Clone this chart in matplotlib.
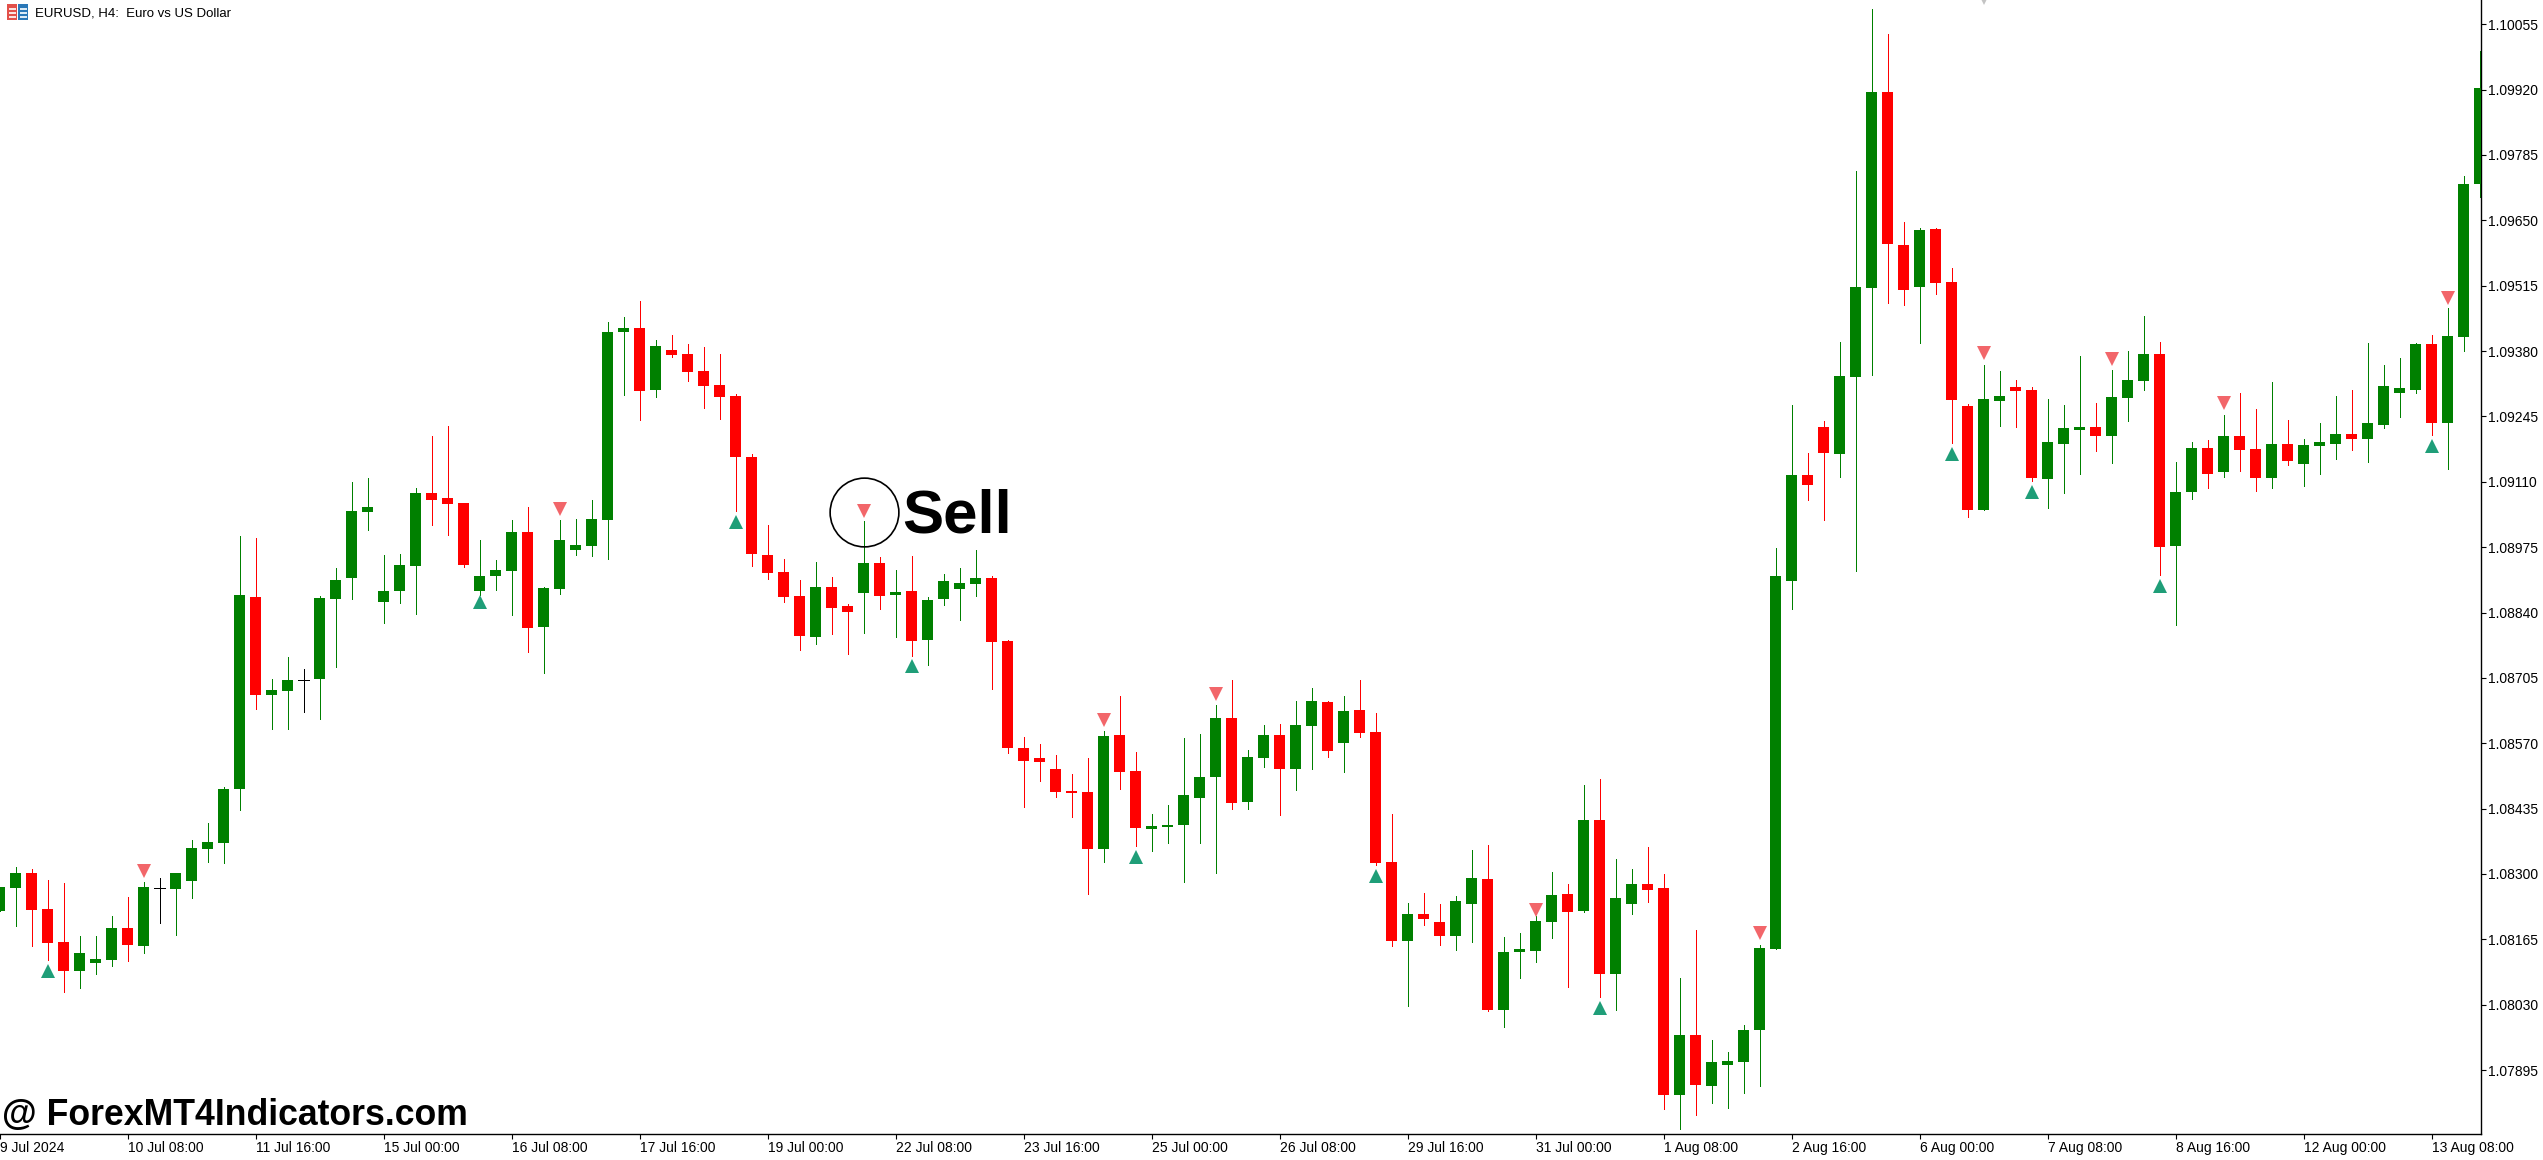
#!/usr/bin/env python3
"""EURUSD H4 candles with buy/sell arrows, MT5 look."""
import numpy as np
import matplotlib
matplotlib.use("Agg")
import matplotlib.pyplot as plt
from matplotlib.patches import Rectangle

# prices in points (1e-5)
opens = [
    108224, 108272, 108301, 108228, 108160, 108100, 108117, 108123, 108189, 108152,
    108271, 108270, 108286, 108352, 108365, 108476, 108872, 108670, 108678, 108701,
    108703, 108868, 108911, 109047, 108862, 108884, 108936, 109087, 109076, 109066,
    108884, 108915, 108926, 109006, 108810, 108889, 108969, 108977, 109031, 109420,
    109428, 109300, 109382, 109374, 109339, 109310, 109287, 109161, 108958, 108924,
    108874, 108789, 108893, 108853, 108880, 108942, 108876, 108884, 108783, 108867,
    108888, 108899, 108911, 108781, 108560, 108540, 108517, 108471, 108470, 108352,
    108587, 108513, 108393, 108397, 108401, 108457, 108500, 108622, 108448, 108540,
    108587, 108516, 108605, 108655, 108570, 108639, 108593, 108324, 108161, 108217,
    108201, 108171, 108238, 108289, 108019, 108139, 108141, 108201, 108258, 108223,
    108411, 108093, 108238, 108279, 108271, 107844, 107967, 107862, 107905, 107912,
    107977, 108145, 108905, 109124, 109223, 109167, 109327, 109510, 109915, 109599,
    109512, 109632, 109523, 109267, 109052, 109276, 109306, 109300, 109115, 109189,
    109216, 109223, 109205, 109283, 109318, 109374, 108977, 109089, 109180, 109130,
    109205, 109178, 109118, 109188, 109147, 109184, 109189, 109208, 109198, 109227,
    109293, 109300, 109395, 109232, 109409, 109725,
]
closes = [
    108274, 108301, 108226, 108158, 108100, 108136, 108125, 108189, 108154, 108274,
    108271, 108301, 108354, 108367, 108476, 108876, 108670, 108680, 108701, 108701,
    108870, 108907, 109050, 109058, 108884, 108938, 109087, 109072, 109064, 108938,
    108915, 108928, 109006, 108808, 108891, 108990, 108979, 109033, 109420, 109428,
    109298, 109390, 109371, 109337, 109307, 109285, 109161, 108961, 108921, 108872,
    108791, 108893, 108849, 108841, 108942, 108874, 108883, 108781, 108866, 108905,
    108901, 108911, 108779, 108560, 108534, 108531, 108470, 108467, 108352, 108585,
    108511, 108394, 108399, 108401, 108463, 108500, 108622, 108447, 108541, 108587,
    108517, 108607, 108657, 108554, 108637, 108591, 108322, 108161, 108217, 108207,
    108171, 108244, 108292, 108019, 108139, 108145, 108203, 108256, 108221, 108411,
    108093, 108250, 108279, 108267, 107844, 107967, 107864, 107912, 107913, 107977,
    108147, 108915, 109124, 109104, 109169, 109328, 109512, 109915, 109601, 109506,
    109630, 109520, 109279, 109052, 109281, 109287, 109297, 109118, 109192, 109221,
    109223, 109205, 109285, 109320, 109374, 108975, 109089, 109180, 109126, 109205,
    109175, 109118, 109188, 109153, 109186, 109192, 109208, 109198, 109232, 109308,
    109303, 109395, 109232, 109411, 109725, 109923,
]
highs = [
    108274, 108315, 108311, 108288, 108282, 108171, 108171, 108214, 108253, 108284,
    108291, 108303, 108371, 108406, 108480, 108998, 108994, 108703, 108748, 108724,
    108874, 108932, 109110, 109117, 108959, 108961, 109098, 109205, 109226, 109066,
    108990, 108948, 109031, 109058, 108893, 109031, 109033, 109072, 109440, 109451,
    109484, 109403, 109413, 109394, 109388, 109374, 109292, 109167, 109021, 108950,
    108907, 108944, 108913, 108857, 109029, 108954, 108928, 108957, 108872, 108920,
    108931, 108969, 108915, 108783, 108582, 108568, 108545, 108507, 108540, 108595,
    108668, 108552, 108424, 108443, 108581, 108589, 108649, 108701, 108556, 108608,
    108609, 108657, 108684, 108657, 108667, 108701, 108632, 108424, 108240, 108260,
    108238, 108255, 108349, 108360, 108170, 108178, 108213, 108304, 108279, 108484,
    108496, 108331, 108310, 108356, 108299, 108085, 108184, 107957, 107932, 107988,
    108154, 108973, 109268, 109169, 109235, 109398, 109752, 110086, 110035, 109646,
    109634, 109634, 109551, 109270, 109351, 109339, 109320, 109306, 109281, 109268,
    109369, 109273, 109341, 109380, 109452, 109398, 109151, 109192, 109196, 109248,
    109293, 109260, 109316, 109238, 109198, 109232, 109287, 109300, 109396, 109351,
    109365, 109396, 109413, 109469, 109741, 110000,
]
lows = [
    108224, 108193, 108152, 108123, 108056, 108064, 108094, 108109, 108121, 108136,
    108199, 108175, 108251, 108325, 108323, 108433, 108641, 108600, 108600, 108635,
    108620, 108728, 108868, 109010, 108818, 108860, 108837, 109021, 109000, 108934,
    108876, 108887, 108835, 108759, 108715, 108878, 108959, 108957, 108950, 109290,
    109238, 109285, 109367, 109318, 109262, 109239, 109049, 108936, 108909, 108861,
    108763, 108775, 108796, 108754, 108797, 108847, 108789, 108750, 108732, 108856,
    108824, 108874, 108682, 108550, 108438, 108492, 108459, 108417, 108259, 108325,
    108475, 108357, 108347, 108364, 108283, 108364, 108302, 108434, 108434, 108521,
    108422, 108473, 108516, 108541, 108511, 108582, 108318, 108151, 108027, 108194,
    108153, 108143, 108159, 108017, 107984, 108085, 108118, 108168, 108066, 108221,
    108046, 108019, 108217, 108242, 107814, 107774, 107802, 107827, 107817, 107848,
    107862, 108145, 108847, 109072, 109031, 109120, 108925, 109330, 109479, 109475,
    109396, 109498, 109190, 109037, 109052, 109225, 109223, 109112, 109056, 109087,
    109126, 109173, 109148, 109235, 109300, 108917, 108814, 109074, 109097, 109120,
    109132, 109091, 109097, 109145, 109101, 109126, 109157, 109175, 109151, 109221,
    109243, 109293, 109206, 109137, 109380, 109698,
]

sell_bars = [9, 35, 54, 69, 76, 96, 110, 124, 132, 139, 153]
sell_prices = [108307, 109054, 109049, 108618, 108672, 108226, 108178, 109375, 109364, 109272, 109489]
buy_bars = [3, 30, 46, 57, 71, 86, 100, 122, 127, 135, 152]
buy_prices = [108100, 108862, 109027, 108730, 108335, 108295, 108023, 109167, 109089, 108895, 109184]
# greyed arrow cut off by the top edge
faded_bars = [124]
faded_prices = [110109]

x_tick_bars = [0, 8, 16, 24, 32, 40, 48, 56, 64, 72, 80, 88, 96, 104, 112, 120, 128, 136, 144, 152]
x_tick_labels = [
    "9 Jul 2024", "10 Jul 08:00", "11 Jul 16:00", "15 Jul 00:00", "16 Jul 08:00",
    "17 Jul 16:00", "19 Jul 00:00", "22 Jul 08:00", "23 Jul 16:00", "25 Jul 00:00",
    "26 Jul 08:00", "29 Jul 16:00", "31 Jul 00:00", "1 Aug 08:00", "2 Aug 16:00",
    "6 Aug 00:00", "7 Aug 08:00", "8 Aug 16:00", "12 Aug 00:00", "13 Aug 08:00",
]
y_ticks = [1.07895, 1.08030, 1.08165, 1.08300, 1.08435, 1.08570, 1.08705, 1.08840, 1.08975,
           1.09110, 1.09245, 1.09380, 1.09515, 1.09650, 1.09785, 1.09920, 1.10055]

GREEN = "#008000"
RED = "#ff0000"
FONT = ["Liberation Sans", "DejaVu Sans"]
W, H = 2543, 1160
AX_RIGHT, AX_BOTTOM = 2481, 1134

plt.rcParams["font.family"] = FONT

o = np.array(opens) / 1e5
c = np.array(closes) / 1e5
hi = np.array(highs) / 1e5
lo = np.array(lows) / 1e5
x = np.arange(len(o))
colors = np.where(c > o, GREEN, np.where(c < o, RED, "#000000"))

fig = plt.figure(figsize=(W / 100, H / 100), dpi=100, facecolor="white")
ax = fig.add_axes([-0.5 / W, (H - AX_BOTTOM) / H, (AX_RIGHT + 0.5) / W, AX_BOTTOM / H])

# wicks then bodies, 16 px per bar
ax.vlines(x, lo, hi, colors=colors, linewidth=0.55, antialiased=False, zorder=2)
body = c != o
ax.bar(x[body], np.abs(c - o)[body], bottom=np.minimum(o, c)[body], width=11 / 16,
       color=colors[body], linewidth=0, antialiased=False, zorder=3)
ax.hlines(o[~body], x[~body] - 5.5 / 16, x[~body] + 5.5 / 16, colors="#000000",
          linewidth=0.55, antialiased=False, zorder=3)

ax.plot(sell_bars, np.array(sell_prices) / 1e5, ls="", marker="v", ms=10.5, mfc="#f2666a", mew=0, zorder=4)
ax.plot(buy_bars, np.array(buy_prices) / 1e5, ls="", marker="^", ms=10.5, mfc="#1f9e78", mew=0, zorder=4)
ax.plot(faded_bars, np.array(faded_prices) / 1e5, ls="", marker="v", ms=10.5, mfc="#c4c4c4", mew=0,
        zorder=4)

# annotation on the sell arrow
ax.plot([54], [1.09047], ls="", marker="o", ms=49.5, mfc="none", mec="black", mew=1.2, zorder=5)
ax.text(56.4, 1.09037, "Sell", fontsize=44.5, fontweight="bold", color="black", va="center", ha="left",
        zorder=5)

ax.set_xlim(0, (AX_RIGHT + 0.5) / 16)
ax.set_ylim(1.07763, 1.10105)
for side in ("top", "left"):
    ax.spines[side].set_visible(False)
ax.spines["right"].set_linewidth(1)
ax.spines["bottom"].set_linewidth(1)

ax.yaxis.tick_right()
ax.set_yticks(y_ticks, [f"{v:.5f}" for v in y_ticks])
ax.set_xticks(x_tick_bars, x_tick_labels, ha="left")
ax.tick_params(axis="both", length=3.6, width=0.8, labelsize=10, pad=1.5, color="black")

# watermark and header live in figure pixels
fig.text(2 / W, 1 - 1125 / H, "@ ForexMT4Indicators.com", fontsize=25.7, fontweight="bold",
         color="black", va="baseline", ha="left")
fig.text(35 / W, 1 - 13 / H, "EURUSD, H4:  Euro vs US Dollar", fontsize=9.5, color="black",
         va="center", ha="left")


def px_rect(left, top, width, height, color):
    fig.add_artist(Rectangle((left / W, 1 - (top + height) / H), width / W, height / H,
                             transform=fig.transFigure, facecolor=color, linewidth=0))


# little symbol icon
px_rect(7, 4, 10, 16, "#e2504a")
px_rect(18, 4, 10, 16, "#2a78b8")
for row in (8, 12, 16):
    px_rect(9, row, 7, 1.5, "#fbe3e0")
    px_rect(20, row, 7, 1.5, "#dcebf6")

fig.savefig("out.png", dpi=100, facecolor="white")
